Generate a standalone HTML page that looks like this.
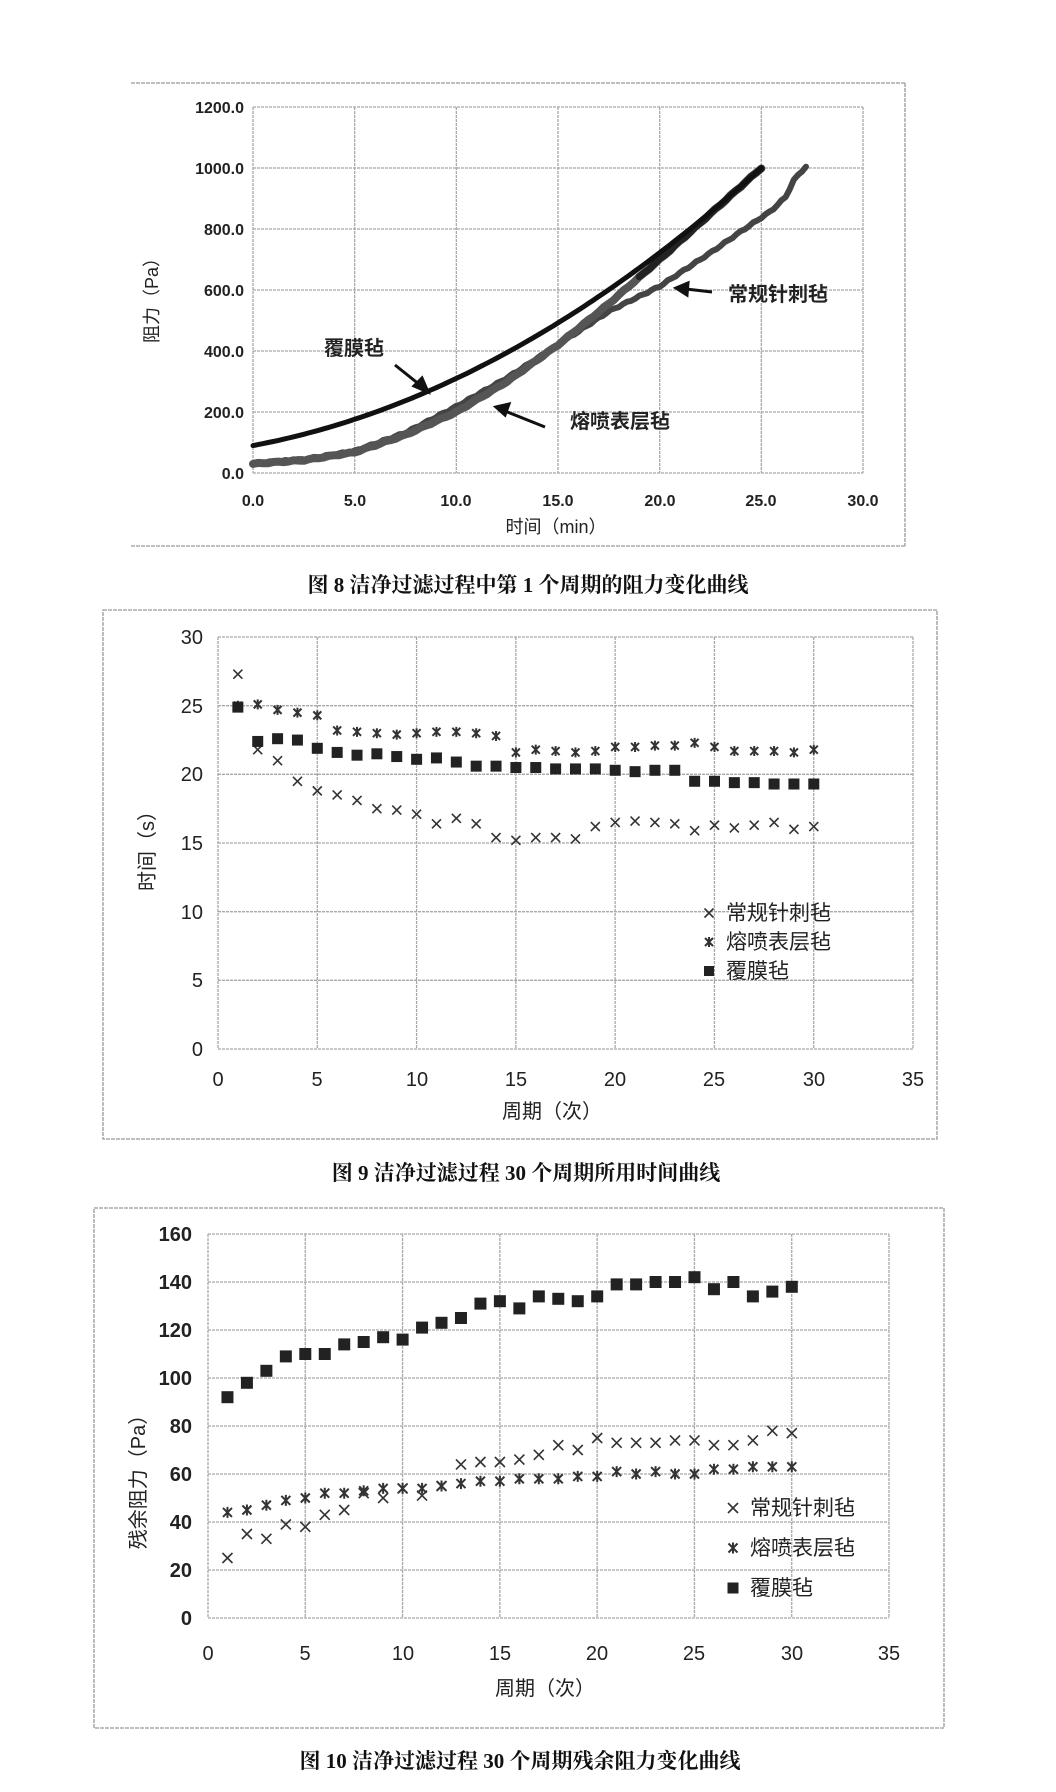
<!DOCTYPE html>
<html><head><meta charset="utf-8"><style>
html,body{margin:0;padding:0;background:#fff;}
svg{display:block;}
text{font-family:"Liberation Sans","Noto Sans CJK SC",sans-serif;fill:#222;}
.cap{font-family:"Liberation Serif","Noto Serif CJK SC",serif;font-weight:bold;font-size:21px;fill:#111;}
.g{stroke:#a8a8a8;stroke-width:1.3;stroke-dasharray:3 1;fill:none;}
.f{stroke:#999;stroke-width:1.3;fill:none;stroke-dasharray:4 1;}
.t1{font-size:16px;font-weight:bold;}
.t2{font-size:20px;}
</style></head><body>
<svg id="s" width="1056" height="1792" viewBox="0 0 1056 1792" xmlns="http://www.w3.org/2000/svg">
<path class="f" d="M131 83 L905 83 M905 83 L905 546 M131 546 L905 546"/>
<g id="c1grid"></g>
<g class="t1" text-anchor="end">
<text x="244" y="479">0.0</text><text x="244" y="418">200.0</text><text x="244" y="357">400.0</text>
<text x="244" y="296">600.0</text><text x="244" y="235">800.0</text><text x="244" y="174">1000.0</text><text x="244" y="113">1200.0</text>
</g>
<g class="t1" text-anchor="middle">
<text x="253" y="506">0.0</text><text x="355" y="506">5.0</text><text x="456" y="506">10.0</text><text x="558" y="506">15.0</text>
<text x="660" y="506">20.0</text><text x="761" y="506">25.0</text><text x="863" y="506">30.0</text>
</g>
<text x="556" y="533" text-anchor="middle" style="font-size:18px">时间（min）</text>
<text transform="translate(158,296) rotate(-90)" text-anchor="middle" style="font-size:18px">阻力（Pa）</text>
<g id="c1curves"></g>
<g style="font-size:20px;font-weight:bold" text-anchor="middle">
<text x="354" y="355">覆膜毡</text>
<text x="620" y="428">熔喷表层毡</text>
<text x="778" y="301">常规针刺毡</text>
</g>
<g stroke="#111" stroke-width="3" fill="#111">
<line x1="395" y1="365" x2="420" y2="385"/><polygon points="428,392 414,386 422,378"/>
<line x1="545" y1="427" x2="505" y2="411"/><polygon points="496,407 509,404 505,415"/>
<line x1="712" y1="292" x2="686" y2="289"/><polygon points="676,288 688,283 687,295"/>
</g>
<text class="cap" x="528" y="592" text-anchor="middle">图 8  洁净过滤过程中第 1 个周期的阻力变化曲线</text>

<path class="f" d="M103 610 L937 610 L937 1139 L103 1139 Z"/>
<g id="c2grid"></g>
<g class="t2" text-anchor="end">
<text x="203" y="1056">0</text><text x="203" y="987">5</text><text x="203" y="919">10</text><text x="203" y="850">15</text>
<text x="203" y="781">20</text><text x="203" y="713">25</text><text x="203" y="644">30</text>
</g>
<g class="t2" text-anchor="middle">
<text x="218" y="1086">0</text><text x="317" y="1086">5</text><text x="417" y="1086">10</text><text x="516" y="1086">15</text>
<text x="615" y="1086">20</text><text x="714" y="1086">25</text><text x="814" y="1086">30</text><text x="913" y="1086">35</text>
</g>
<text x="552" y="1118" text-anchor="middle" style="font-size:20px">周期（次）</text>
<text transform="translate(154,846) rotate(-90)" text-anchor="middle" style="font-size:20px">时间（s）</text>
<g id="c2pts"></g>
<g style="font-size:21px">
<text x="726" y="920">常规针刺毡</text><text x="726" y="949">熔喷表层毡</text><text x="726" y="978">覆膜毡</text>
</g>
<text class="cap" x="526" y="1180" text-anchor="middle">图 9  洁净过滤过程 30 个周期所用时间曲线</text>

<path class="f" d="M94 1208 L944 1208 L944 1728 L94 1728 Z"/>
<g id="c3grid"></g>
<g class="t2" text-anchor="end" style="font-weight:bold">
<text x="192" y="1625">0</text><text x="192" y="1577">20</text><text x="192" y="1529">40</text><text x="192" y="1481">60</text>
<text x="192" y="1433">80</text><text x="192" y="1385">100</text><text x="192" y="1337">120</text><text x="192" y="1289">140</text><text x="192" y="1241">160</text>
</g>
<g class="t2" text-anchor="middle">
<text x="208" y="1660">0</text><text x="305" y="1660">5</text><text x="403" y="1660">10</text><text x="500" y="1660">15</text>
<text x="597" y="1660">20</text><text x="694" y="1660">25</text><text x="792" y="1660">30</text><text x="889" y="1660">35</text>
</g>
<text x="545" y="1695" text-anchor="middle" style="font-size:20px">周期（次）</text>
<text transform="translate(145,1477) rotate(-90)" text-anchor="middle" style="font-size:20px">残余阻力（Pa）</text>
<g id="c3pts"></g>
<g style="font-size:21px">
<text x="750" y="1515">常规针刺毡</text><text x="750" y="1555">熔喷表层毡</text><text x="750" y="1595">覆膜毡</text>
</g>
<text class="cap" x="520" y="1768" text-anchor="middle">图 10  洁净过滤过程 30 个周期残余阻力变化曲线</text>
</svg>
<script>
var NS="http://www.w3.org/2000/svg";
function el(p,t,a){var e=document.createElementNS(NS,t);for(var k in a)e.setAttribute(k,a[k]);document.getElementById(p).appendChild(e);return e;}
function grid(id,x0,x1,y0,y1,nx,ny){var d="";for(var i=0;i<=nx;i++){var x=x0+(x1-x0)*i/nx;d+="M"+x+" "+y0+"L"+x+" "+y1;}for(var j=0;j<=ny;j++){var y=y0+(y1-y0)*j/ny;d+="M"+x0+" "+y+"L"+x1+" "+y;}el(id,"path",{"class":"g",d:d});}
grid("c1grid",253,863,107,473,6,6);
grid("c2grid",218,913,637,1049,7,6);
grid("c3grid",208,889,1234,1618,7,8);
function X1(t){return 253+20.33*t;}function Y1(v){return 473-0.305*v;}
function poly(pts,col,w){var d=pts.map(function(p,i){return (i?"L":"M")+X1(p[0]).toFixed(1)+" "+Y1(p[1]).toFixed(1);}).join("");el("c1curves","path",{d:d,stroke:col,"stroke-width":w,fill:"none","stroke-linejoin":"round","stroke-linecap":"round"});}
function interp(k,t){for(var i=0;i<k.length-1;i++){if(t<=k[i+1][0]){var a=k[i],b=k[i+1],f=(t-a[0])/(b[0]-a[0]);return a[1]+(b[1]-a[1])*f;}}return k[k.length-1][1];}
var mk=[[0,30],[2.5,42],[5,68],[7.5,125],[10,200],[12.5,300],[15,420],[17.5,555],[20,700],[22.5,850],[25,1000]];
var ck=[[0,32],[2.5,45],[5,72],[7.5,132],[10,218],[12.5,312],[15,420],[17.5,530],[20,612],[22.5,722],[24,792],[25.5,860],[26.2,905],[26.6,960],[27.2,1005]];
var p=[],q=[],r=[];
for(var t=0;t<=25.001;t+=0.25){p.push([t,90+12.4*t+0.96*t*t]);q.push([t,interp(mk,t)+(Math.sin(t*7)*2)]);}
for(var t=0;t<=27.2;t+=0.2){r.push([t,interp(ck,t)+(Math.sin(t*9)*2.5)]);}
poly(r,"#444",6);poly(q,"#555",8);poly(q.filter(function(a){return a[0]>=19;}),"#222",7);poly(p,"#111",5);
function xm(g,x,y,s){el(g,"path",{d:"M"+(x-s)+" "+(y-s)+"L"+(x+s)+" "+(y+s)+"M"+(x+s)+" "+(y-s)+"L"+(x-s)+" "+(y+s),stroke:"#333","stroke-width":1.6,fill:"none"});}
function am(g,x,y,s){el(g,"path",{d:"M"+(x-s)+" "+(y-s)+"L"+(x+s)+" "+(y+s)+"M"+(x+s)+" "+(y-s)+"L"+(x-s)+" "+(y+s)+"M"+x+" "+(y-s-1)+"L"+x+" "+(y+s+1),stroke:"#333","stroke-width":2,fill:"none"});}
function sq(g,x,y,s){el(g,"rect",{x:x-s,y:y-s,width:2*s,height:2*s,fill:"#222"});}
var A2=[27.3,21.8,21,19.5,18.8,18.5,18.1,17.5,17.4,17.1,16.4,16.8,16.4,15.4,15.2,15.4,15.4,15.3,16.2,16.5,16.6,16.5,16.4,15.9,16.3,16.1,16.3,16.5,16.0,16.2];
var B2=[25.0,25.1,24.7,24.5,24.3,23.2,23.1,23.0,22.9,23.0,23.1,23.1,23.0,22.8,21.6,21.8,21.7,21.6,21.7,22.0,22.0,22.1,22.1,22.3,22.0,21.7,21.7,21.7,21.6,21.8];
var C2=[24.9,22.4,22.6,22.5,21.9,21.6,21.4,21.5,21.3,21.1,21.2,20.9,20.6,20.6,20.5,20.5,20.4,20.4,20.4,20.3,20.2,20.3,20.3,19.5,19.5,19.4,19.4,19.3,19.3,19.3];
function X2(i){return 218+19.86*i;}function Y2(v){return 1049-13.73*v;}
for(var i=0;i<30;i++){xm("c2pts",X2(i+1),Y2(A2[i]),4.5);am("c2pts",X2(i+1),Y2(B2[i]),4);sq("c2pts",X2(i+1),Y2(C2[i]),5.5);}
xm("c2pts",709,913,4.5);am("c2pts",709,942,4);sq("c2pts",709,971,5);
var A3=[25,35,33,39,38,43,45,52,50,54,51,55,64,65,65,66,68,72,70,75,73,73,73,74,74,72,72,74,78,77];
var B3=[44,45,47,49,50,52,52,53,54,54,54,55,56,57,57,58,58,58,59,59,61,60,61,60,60,62,62,63,63,63];
var C3=[92,98,103,109,110,110,114,115,117,116,121,123,125,131,132,129,134,133,132,134,139,139,140,140,142,137,140,134,136,138];
function X3(i){return 208+19.46*i;}function Y3(v){return 1618-2.4*v;}
for(var i=0;i<30;i++){xm("c3pts",X3(i+1),Y3(A3[i]),5);am("c3pts",X3(i+1),Y3(B3[i]),4.5);sq("c3pts",X3(i+1),Y3(C3[i]),6);}
xm("c3pts",733,1508,5);am("c3pts",733,1548,4.5);sq("c3pts",733,1588,5.5);
</script>
</body></html>
